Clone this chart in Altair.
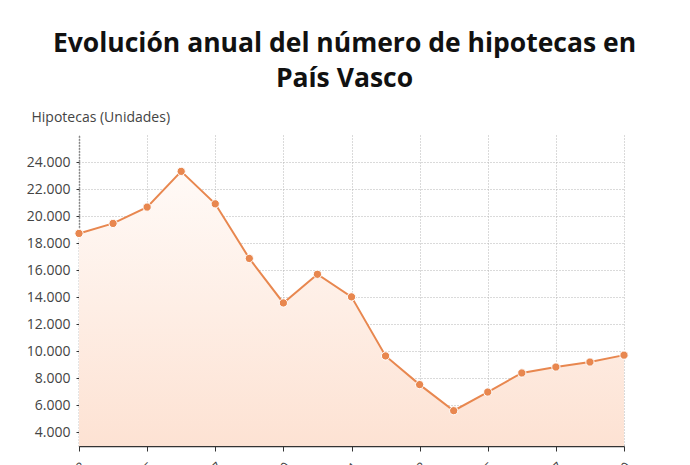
import pandas as pd
import altair as alt

# Número anual de hipotecas en País Vasco
years = list(range(2003, 2020))
hipotecas = [18720, 19460, 20670, 23310, 20910, 16870, 13580, 15700,
             14030, 9660, 7540, 5610, 6990, 8400, 8840, 9210, 9720]
year_ticks = list(range(2003, 2020, 2))
y_ticks = list(range(4000, 26000, 2000))

df = pd.DataFrame({"year": years, "hipotecas": hipotecas})

orange = "#e8874f"
font = "Open Sans"

x_enc = alt.X("year:Q",
    scale=alt.Scale(domain=[2003, 2019], nice=False, zero=False),
    axis=alt.Axis(values=year_ticks, format="d", labelAngle=315,
                  labelAlign="right", labelBaseline="top", title=None,
                  domainColor="#333", domainWidth=1.5, tickColor="#333",
                  tickSize=5, labelPadding=9, labelFontSize=13, labelColor="#444"))
y_enc = alt.Y("hipotecas:Q",
    scale=alt.Scale(domain=[3000, 26000], nice=False, zero=False),
    axis=alt.Axis(values=y_ticks, labelExpr="replace(format(datum.value, ',d'), ',', '.')",
                  title="Hipotecas (Unidades)", titleAngle=0, titleAlign="left",
                  titleBaseline="alphabetic", titleX=-48, titleY=-14,
                  titleFontSize=14, titleFontWeight="normal", titleColor="#444",
                  domainColor="#333", domainDash=[1, 2], domainWidth=1.5,
                  tickColor="#333", tickSize=3, labelPadding=6,
                  labelFontSize=14, labelColor="#444"))

area = alt.Chart(df).mark_area(
    line=False,
    color=alt.Gradient(gradient="linear",
                       stops=[alt.GradientStop(color="#fffaf7", offset=0),
                              alt.GradientStop(color="#fde2d3", offset=1)],
                       x1=0, x2=0, y1=0, y2=1)
).encode(x=x_enc, y=y_enc, y2=alt.datum(3000))

line = alt.Chart(df).mark_line(color=orange, strokeWidth=2).encode(x=x_enc, y=y_enc)
points = alt.Chart(df).mark_circle(color=orange, opacity=1, size=68,
                                   stroke="white", strokeWidth=1).encode(x=x_enc, y=y_enc)

chart = (area + line + points).properties(
    width=545, height=311,
    autosize=alt.AutoSizeParams(type="none"),
    padding={"left": 71, "top": 127, "right": 50, "bottom": 40},
    title=alt.TitleParams(
        ["Evolución anual del número de hipotecas en", "País Vasco"],
        font=font, fontSize=26.5, fontWeight="bold", color="#111",
        anchor="middle", frame="group", offset=18, lineHeight=35, dx=-7)
).configure_axis(
    gridColor="#b5b5b5", gridDash=[1, 2], grid=True,
    labelFont=font, titleFont=font
).configure_view(stroke=None)

chart.save("out.html", embed_options={"renderer": "svg", "actions": False})
